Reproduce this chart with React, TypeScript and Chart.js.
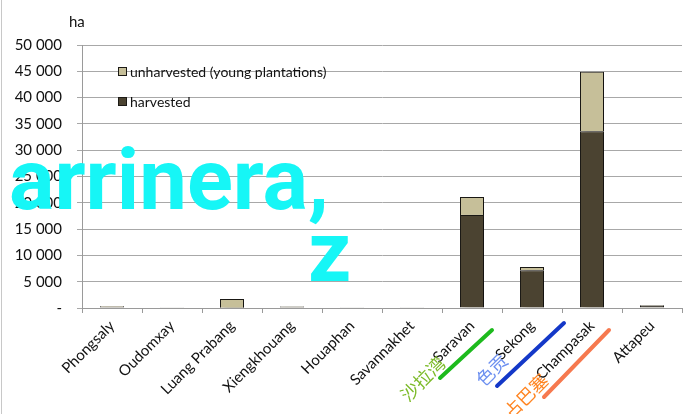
import React, { useEffect, useRef } from 'react';
import { Chart, registerables } from 'chart.js';

Chart.register(...registerables);

const categories = ['Phongsaly', 'Oudomxay', 'Luang Prabang', 'Xiengkhouang', 'Houaphan', 'Savannakhet', 'Saravan', 'Sekong', 'Champasak', 'Attapeu'];
const harvested = [250, 30, 60, 250, 30, 30, 17700, 7200, 33600, 400];
const unharvested = [120, 20, 1650, 60, 20, 20, 3400, 600, 11300, 100];
const seriesNames = ['harvested', 'unharvested (young plantations)'];
const yMin = 0;
const yMax = 50000;
const yStep = 5000;
const yUnit = 'ha';
const chineseNotes = [
  { index: 6, text: '沙拉湾', color: '#7dbb2a' },
  { index: 7, text: '色贡', color: '#6c8ff0' },
  { index: 8, text: '占巴塞', color: '#ff8420' },
];
const watermarkWords = ['arrinera,', 'z'];

const FONT = 'Lato, "Open Sans", sans-serif';
const DARK = '#4b4331';
const LIGHT = '#c6bf99';
const EDGE = '#1c1a16';
const TICK_SIZE = 15;

function fmt(v: number): string {
  if (v === 0) return '-';
  const s = String(Math.round(v));
  return s.replace(/\B(?=(\d{3})+(?!\d))/g, ' ');
}

const shadowPlugin = {
  id: 'barShadow',
  beforeDatasetsDraw(chart: any) {
    const ctx = chart.ctx;
    ctx.save();
    ctx.shadowColor = 'rgba(0,0,0,0.35)';
    ctx.shadowBlur = 5;
    ctx.shadowOffsetX = 4;
    ctx.shadowOffsetY = 1;
  },
  afterDatasetsDraw(chart: any) {
    chart.ctx.restore();
  },
};

const decorPlugin = {
  id: 'decor',
  afterDraw(chart: any) {
    const ctx = chart.ctx;
    const xs = chart.scales.x;
    const area = chart.chartArea;
    ctx.save();
    ctx.strokeStyle = '#c8c8c8';
    ctx.lineWidth = 1;
    ctx.beginPath();
    ctx.moveTo(1.5, 0);
    ctx.lineTo(1.5, 414);
    ctx.stroke();

    ctx.fillStyle = '#111';
    ctx.font = `15px ${FONT}`;
    ctx.textAlign = 'left';
    ctx.textBaseline = 'middle';
    ctx.fillText(yUnit, 69, 22);

    const lx = area.left + 36;
    const items = [
      { label: seriesNames[1], color: LIGHT, y: 72 },
      { label: seriesNames[0], color: DARK, y: 102 },
    ];
    ctx.font = `14px ${FONT}`;
    items.forEach((it) => {
      ctx.fillStyle = it.color;
      ctx.fillRect(lx, it.y - 5, 9, 9);
      ctx.strokeStyle = EDGE;
      ctx.lineWidth = 1;
      ctx.strokeRect(lx + 0.5, it.y - 4.5, 8, 8);
      ctx.fillStyle = '#111';
      ctx.fillText(it.label, lx + 12, it.y);
    });

    const tickFont = `${TICK_SIZE}px ${FONT}`;
    const lh = TICK_SIZE * 1.2;
    chineseNotes.forEach((n) => {
      const x = xs.getPixelForTick(n.index);
      const y = xs.top + 5 + 4;
      ctx.save();
      ctx.translate(x, y);
      ctx.rotate(-Math.PI / 4);
      ctx.font = tickFont;
      const w = ctx.measureText(categories[n.index]).width;
      ctx.font = `18px "Noto Sans CJK SC", sans-serif`;
      ctx.fillStyle = n.color;
      ctx.textAlign = 'right';
      ctx.textBaseline = 'middle';
      ctx.fillText(n.text, -w, lh / 2);
      ctx.restore();
    });

    const strokes = [
      { color: '#1dba1d', x1: 440, y1: 378, x2: 492, y2: 330 },
      { color: '#1438c8', x1: 497, y1: 386, x2: 564, y2: 323 },
      { color: '#f6794f', x1: 544, y1: 397, x2: 609, y2: 330 },
    ];
    ctx.lineCap = 'round';
    ctx.lineWidth = 4;
    strokes.forEach((s) => {
      ctx.strokeStyle = s.color;
      ctx.beginPath();
      ctx.moveTo(s.x1, s.y1);
      ctx.lineTo(s.x2, s.y2);
      ctx.stroke();
    });

    ctx.fillStyle = '#16f6f6';
    ctx.font = `bold 85px Roboto, sans-serif`;
    ctx.textAlign = 'left';
    ctx.textBaseline = 'alphabetic';
    ctx.fillText(watermarkWords[0], 9, 209);
    ctx.fillText(watermarkWords[1], 308, 281);
    ctx.restore();
  },
};

export default function App() {
  const ref = useRef<HTMLCanvasElement | null>(null);
  useEffect(() => {
    if (!ref.current) return;
    const chart = new Chart(ref.current, {
      type: 'bar',
      data: {
        labels: categories,
        datasets: [
          {
            label: seriesNames[0],
            data: harvested,
            backgroundColor: DARK,
            borderColor: EDGE,
            borderWidth: 1,
            barPercentage: 0.8,
            categoryPercentage: 0.5,
          },
          {
            label: seriesNames[1],
            data: unharvested,
            backgroundColor: LIGHT,
            borderColor: EDGE,
            borderWidth: 1,
            barPercentage: 0.8,
            categoryPercentage: 0.5,
          },
        ],
      },
      options: {
        animation: false,
        responsive: false,
        maintainAspectRatio: false,
        layout: { padding: { left: 0, right: 8, top: 45, bottom: 0 } },
        plugins: { legend: { display: false }, tooltip: { enabled: false } },
        scales: {
          x: {
            stacked: true,
            grid: { drawOnChartArea: false, drawTicks: true, tickLength: 5, color: '#9a9a9a', offset: true },
            border: { color: '#9a9a9a' },
            ticks: {
              color: '#111',
              font: { family: FONT, size: TICK_SIZE },
              maxRotation: 45,
              minRotation: 45,
              autoSkip: false,
              padding: 4,
            },
            afterFit: (s: any) => {
              s.height = 106;
            },
          },
          y: {
            stacked: true,
            min: yMin,
            max: yMax,
            grid: { color: '#a8a8a8', tickLength: 5 },
            border: { color: '#9a9a9a' },
            ticks: {
              stepSize: yStep,
              color: '#111',
              font: { family: FONT, size: TICK_SIZE },
              padding: 15,
              callback: (v: any) => fmt(Number(v)),
            },
            afterFit: (s: any) => {
              s.width = 82;
            },
          },
        },
      },
      plugins: [shadowPlugin, decorPlugin],
    });
    return () => chart.destroy();
  }, []);
  return (
    <div style={{ position: 'absolute', left: 0, top: 0, width: 690, height: 414, background: '#fff' }}>
      <canvas ref={ref} width={690} height={414} style={{ display: 'block' }} />
    </div>
  );
}
